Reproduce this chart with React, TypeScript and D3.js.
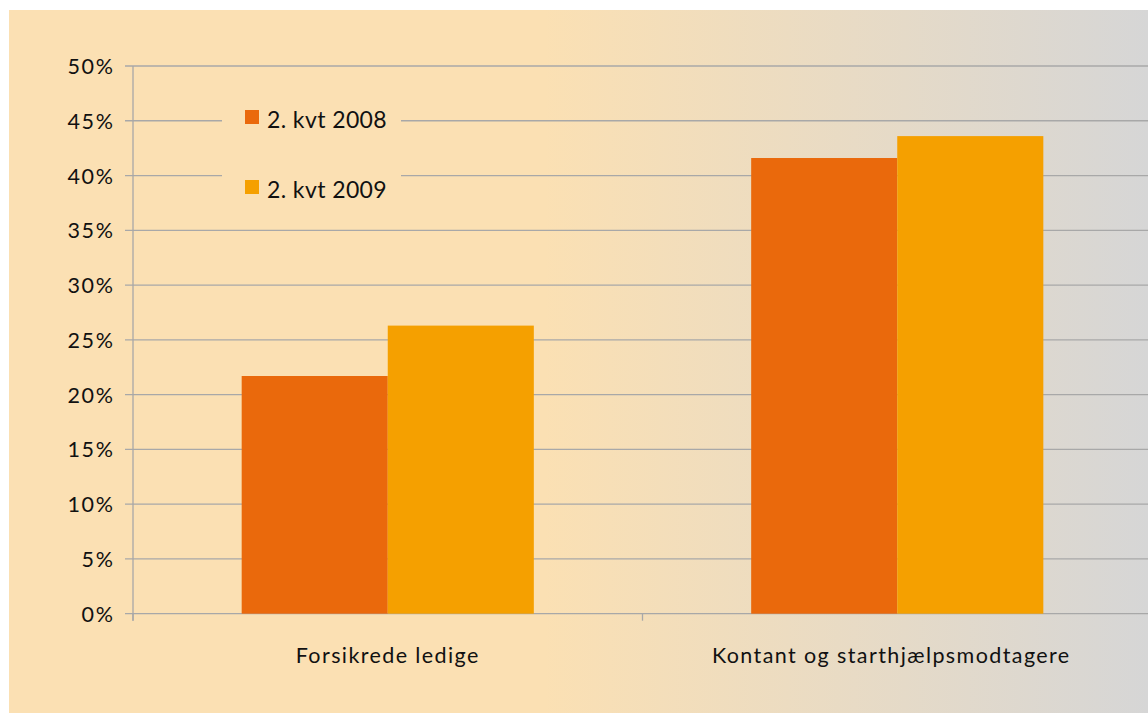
import React from "react";
import * as d3 from "d3";

const categories = ["Forsikrede ledige", "Kontant og starthjælpsmodtagere"];
const seriesNames = ["2. kvt 2008", "2. kvt 2009"];
const values2008 = [21.7, 41.6];
const values2009 = [26.3, 43.6];
const yTicks = [0, 5, 10, 15, 20, 25, 30, 35, 40, 45, 50];
const colors = ["#EA690C", "#F5A000"];

const W = 1148;
const H = 713;
const plotLeft = 133;
const plotRight = 1152;
const plotTop = 66;
const plotBottom = 613.7;
const font = "Lato, 'Open Sans', sans-serif";

export default function App() {
  const x = d3.scaleBand<string>().domain(categories).range([plotLeft, plotRight]).paddingInner(0).paddingOuter(0);
  const inner = d3.scaleBand<string>().domain(seriesNames).range([0, x.bandwidth()]).paddingInner(0).paddingOuter(0.744);
  const y = d3.scaleLinear().domain([0, 50]).range([plotBottom, plotTop]);
  const series = [values2008, values2009];
  const grid = "#A8A8A8";

  return (
    <svg width={W} height={H} style={{ position: "absolute", left: 0, top: 0 }} fontFamily={font}>
      <defs>
        <linearGradient id="bg" x1="0" x2="1" y1="0" y2="0">
          <stop offset="0" stopColor="#FBE0B3" />
          <stop offset="0.47" stopColor="#FBE0B3" />
          <stop offset="1" stopColor="#D6D6D6" />
        </linearGradient>
      </defs>
      <rect x={9} y={10} width={W - 9} height={H - 10} fill="url(#bg)" />
      {yTicks.map((t) => (
        <line key={"g" + t} x1={plotLeft - 8} x2={plotRight} y1={y(t)} y2={y(t)} stroke={grid} strokeWidth={1.3} />
      ))}
      <rect x={222} y={92} width={179} height={118} fill="#FBE0B3" />
      {series.map((vals, si) =>
        categories.map((c, ci) => (
          <rect
            key={si + "-" + ci}
            x={(x(c) as number) + (inner(seriesNames[si]) as number)}
            y={y(vals[ci])}
            width={inner.bandwidth()}
            height={plotBottom - y(vals[ci])}
            fill={colors[si]}
          />
        ))
      )}
      <line x1={plotLeft} x2={plotLeft} y1={plotTop} y2={plotBottom + 7} stroke={grid} strokeWidth={1.3} />
      {categories.map((c, i) => (
        <line key={"ct" + i} x1={x(c) as number} x2={x(c) as number} y1={plotBottom} y2={plotBottom + 7} stroke={grid} strokeWidth={1.3} />
      ))}
      {yTicks.map((t) => (
        <text key={"yl" + t} x={114.5} y={y(t) + 8} textAnchor="end" fontSize={21.5} letterSpacing={1.6} fill="#111">
          {t}%
        </text>
      ))}
      {categories.map((c, i) => (
        <text key={"xl" + c} x={(x(c) as number) + x.bandwidth() / 2 - (i === 1 ? 6 : 0)} y={663} textAnchor="middle" fontSize={21.5} letterSpacing={1.4} fill="#111">
          {c}
        </text>
      ))}
      {seriesNames.map((s, i) => (
        <g key={"lg" + s} transform={`translate(245, ${110 + i * 70})`}>
          <rect x={0} y={0} width={14} height={14} fill={colors[i]} />
          <text x={22} y={17.5} fontSize={23} letterSpacing={0.4} fill="#111">
            {s}
          </text>
        </g>
      ))}
    </svg>
  );
}
